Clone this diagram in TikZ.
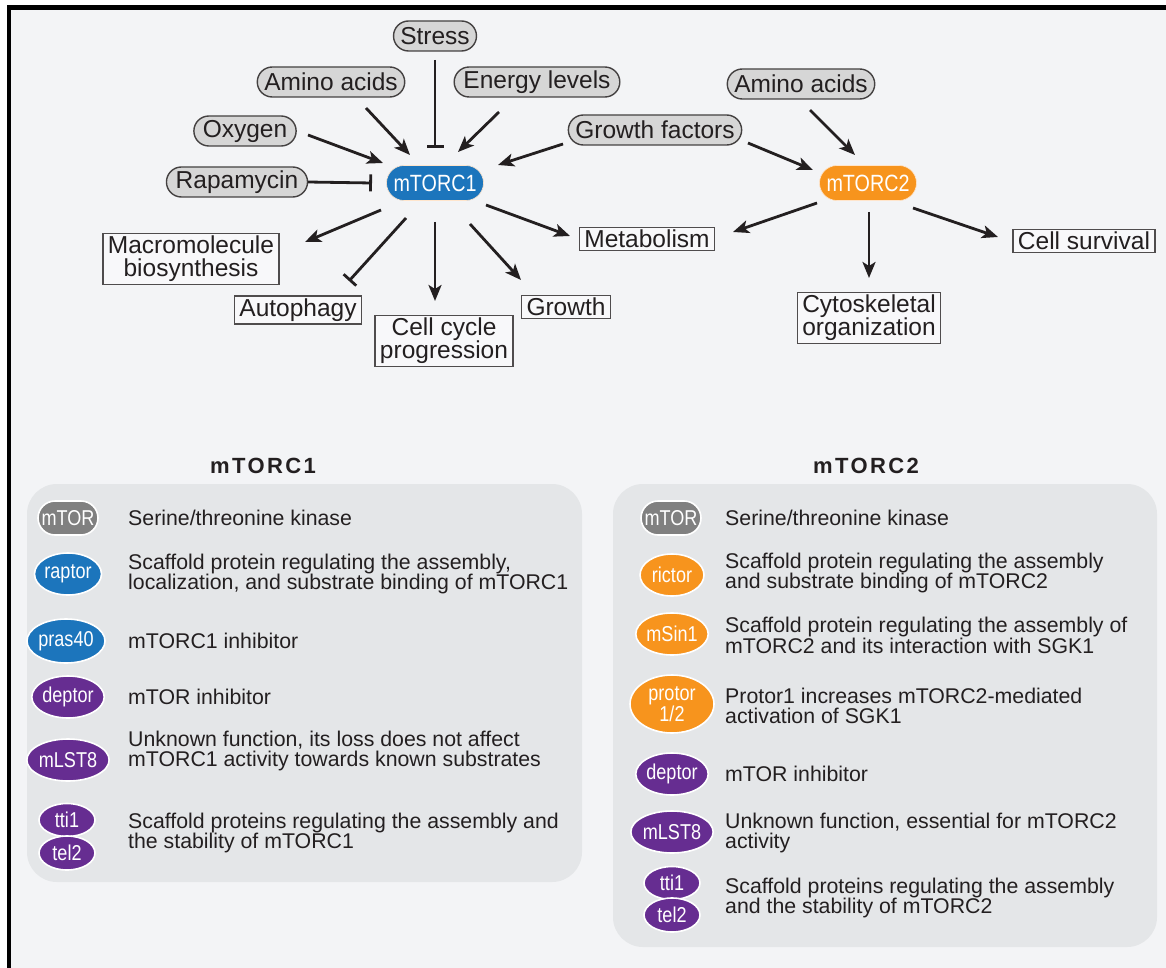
\documentclass[tikz,border=0pt]{standalone}
\usepackage{fontspec}
\setmainfont{Liberation Sans}
\newfontfamily\narrowfont[FakeStretch=0.84]{Liberation Sans}
\newfontfamily\headfont[LetterSpace=11]{Liberation Sans}
\usetikzlibrary{shapes.misc,shapes.geometric,arrows.meta}
\definecolor{bgc}{HTML}{F3F4F6}
\definecolor{panelc}{HTML}{E4E6E8}
\definecolor{pillc}{HTML}{D6D6D6}
\definecolor{linec}{HTML}{231F20}
\definecolor{bluec}{HTML}{1C75BC}
\definecolor{orangec}{HTML}{F7941D}
\definecolor{purplec}{HTML}{662D91}
\definecolor{mtorc}{HTML}{808080}
\begin{document}
\begin{tikzpicture}[x=1pt,y=-1pt,
  inp/.style={rounded rectangle, draw=linec!85, line width=1.4pt, fill=pillc,
    inner xsep=4pt, inner ysep=0pt, minimum height=30pt,
    font=\fontsize{24.5}{25}\selectfont, text=linec},
  outb/.style={rectangle, draw=linec!80, line width=1.4pt, fill=bgc!60!white,
    inner xsep=5pt, inner ysep=2.5pt, align=center,
    font=\fontsize{24.5}{24}\selectfont, text=linec},
  cplx/.style={rounded rectangle, draw=white!80!orange, line width=0.6pt, text=white, minimum height=35pt,
    minimum width=97pt, inner sep=0pt, font=\narrowfont\fontsize{23.5}{23}\selectfont},
  act/.style={draw=linec, line width=2.8pt, -{Stealth[length=16pt,width=13pt,inset=4pt]}},
  inh/.style={draw=linec, line width=2.8pt, -{Bar[width=17pt,line width=2.8pt]}},
  lel/.style={ellipse, draw=white, line width=1.6pt, text=white, inner sep=0pt,
    font=\narrowfont\fontsize{21.5}{18}\selectfont, align=center},
  lpill/.style={rounded rectangle, draw=white, line width=1.6pt, text=white, inner sep=0pt,
    font=\narrowfont\fontsize{21.5}{19}\selectfont},
  ltxt/.style={anchor=west, inner sep=0pt, align=left, text=linec,
    font=\fontsize{21.3}{19.5}\selectfont},
  hdr/.style={font=\headfont\bfseries\fontsize{22}{22}\selectfont, text=linec}
]
\useasboundingbox (0,0) rectangle (1166,968);
\fill[white] (0,0) rectangle (1166,968);
\fill[bgc] (11,10) rectangle (1166,968);
\fill[black] (7,5) rectangle (1166,10);
\fill[black] (7,5) rectangle (11,968);

% ---------- top diagram ----------
\node[inp] (stress) at (435,36) {Stress};
\node[inp] (aaL) at (331,82) {Amino acids};
\node[inp] (energy) at (537,82) {Energy levels};
\node[inp] (oxy) at (245,131) {Oxygen};
\node[inp] (rapa) at (237,182) {Rapamycin};
\node[inp] (gf) at (655,130) {Growth factors};
\node[inp] (aaR) at (801,84) {Amino acids};

\node[cplx, fill=bluec] (m1) at (435,183) {mTORC1};
\node[cplx, fill=orangec] (m2) at (868,183) {mTORC2};

\node[outb] (macro) at (191,259) {Macromolecule\\[-1pt]biosynthesis};
\node[outb] (auto) at (298,310) {Autophagy};
\node[outb] (cellc) at (444,341) {Cell cycle\\[-1pt]progression};
\node[outb] (growth) at (566,307) {Growth};
\node[outb] (metab) at (647,239) {Metabolism};
\node[outb] (cyto) at (869,318) {Cytoskeletal\\[-1pt]organization};
\node[outb] (surv) at (1084,241) {Cell survival};

% inputs
\draw[act] ([shift={(35,26)}]aaL.center) -- ([shift={(-25,-28)}]m1.center);
\draw[inh] ([shift={(0,24)}]stress.center) -- ([shift={(0,-35)}]m1.center);
\draw[act] ([shift={(-38,30)}]energy.center) -- ([shift={(23,-31)}]m1.center);
\draw[act] ([shift={(63,4)}]oxy.center) -- ([shift={(-52,-20)}]m1.center);
\draw[inh] ([shift={(71,0)}]rapa.center) -- ([shift={(-63,0)}]m1.center);
\draw[act] ([shift={(-92,14)}]gf.center) -- ([shift={(63,-18)}]m1.center);
\draw[act] ([shift={(93,13)}]gf.center) -- ([shift={(-55,-13)}]m2.center);
\draw[act] ([shift={(9,26)}]aaR.center) -- ([shift={(-13,-28)}]m2.center);
% outputs
\draw[act] ([shift={(-54,27)}]m1.center) -- ([shift={(114,-17)}]macro.center);
\draw[inh] ([shift={(-29,35)}]m1.center) -- ([shift={(51,-29)}]auto.center);
\draw[act] ([shift={(0,39)}]m1.center) -- ([shift={(-9,-40)}]cellc.center);
\draw[act] ([shift={(35,41)}]m1.center) -- ([shift={(-45,-27)}]growth.center);
\draw[act] ([shift={(51,22)}]m1.center) -- ([shift={(-77,-3)}]metab.center);
\draw[act] ([shift={(-51,20)}]m2.center) -- ([shift={(86,-7)}]metab.center);
\draw[act] ([shift={(1,29)}]m2.center) -- ([shift={(0,-40)}]cyto.center);
\draw[act] ([shift={(45,25)}]m2.center) -- ([shift={(-86,-4)}]surv.center);

% ---------- legends ----------
\fill[panelc, rounded corners=30pt] (27,484) rectangle (582,882);
\fill[panelc, rounded corners=30pt] (613,484) rectangle (1157,947);
\node[hdr] (h1) at (263,466) {mTORC1};
\node[hdr] (h2) at (866,466) {mTORC2};

% left
\node[lpill, fill=mtorc, minimum width=60pt, minimum height=34pt] (a1) at (68,518) {mTOR};
\node[ltxt] (a1t) at (128,518) {Serine/threonine kinase};
\node[lel, fill=bluec, minimum width=67pt, minimum height=42pt] (a2) at (68,574) {raptor};
\node[ltxt] (a2t) at (128,574) {Scaffold protein regulating the assembly,\\localization, and substrate binding of mTORC1};
\node[lel, fill=bluec, minimum width=78pt, minimum height=44pt] (a3) at (66,641) {pras40};
\node[ltxt] (a3t) at (128,641) {mTORC1 inhibitor};
\node[lel, fill=purplec, minimum width=72pt, minimum height=42pt] (a4) at (68,697) {deptor};
\node[ltxt] (a4t) at (128,697) {mTOR inhibitor};
\node[lel, fill=purplec, minimum width=74pt, minimum height=42pt] (a5) at (68,760) {mLST8};
\node[ltxt] (a5t) at (128,751) {Unknown function, its loss does not affect\\mTORC1 activity towards known substrates};
\node[lel, fill=purplec, minimum width=56pt, minimum height=33pt] (a6) at (67,820) {tti1};
\node[lel, fill=purplec, minimum width=56pt, minimum height=34pt] (a7) at (67,853) {tel2};
\node[ltxt] (a6t) at (128,833) {Scaffold proteins regulating the assembly and\\the stability of mTORC1};

% right
\node[lpill, fill=mtorc, minimum width=60pt, minimum height=34pt] (b1) at (671,518) {mTOR};
\node[ltxt] (b1t) at (725,518) {Serine/threonine kinase};
\node[lel, fill=orangec, minimum width=64pt, minimum height=42pt] (b2) at (672,575) {rictor};
\node[ltxt] (b2t) at (725,573) {Scaffold protein regulating the assembly\\and substrate binding of mTORC2};
\node[lel, fill=orangec, minimum width=64pt, minimum height=42pt] (b3) at (672,634) {mSin1};
\node[ltxt] (b3t) at (725,635) {Scaffold protein regulating the assembly of\\mTORC2 and its interaction with SGK1};
\node[lel, fill=orangec, minimum width=84pt, minimum height=58pt] (b4) at (672,704) {protor\\1/2};
\node[ltxt] (b4t) at (725,706) {Protor1 increases mTORC2-mediated\\activation of SGK1};
\node[lel, fill=purplec, minimum width=72pt, minimum height=42pt] (b5) at (672,774) {deptor};
\node[ltxt] (b5t) at (725,774) {mTOR inhibitor};
\node[lel, fill=purplec, minimum width=74pt, minimum height=42pt] (b6) at (672,832) {mLST8};
\node[ltxt] (b6t) at (725,833) {Unknown function, essential for mTORC2\\activity};
\node[lel, fill=purplec, minimum width=56pt, minimum height=33pt] (b7) at (672,883) {tti1};
\node[lel, fill=purplec, minimum width=56pt, minimum height=34pt] (b8) at (672,915) {tel2};
\node[ltxt] (b7t) at (725,898) {Scaffold proteins regulating the assembly\\and the stability of mTORC2};
\end{tikzpicture}
\end{document}
